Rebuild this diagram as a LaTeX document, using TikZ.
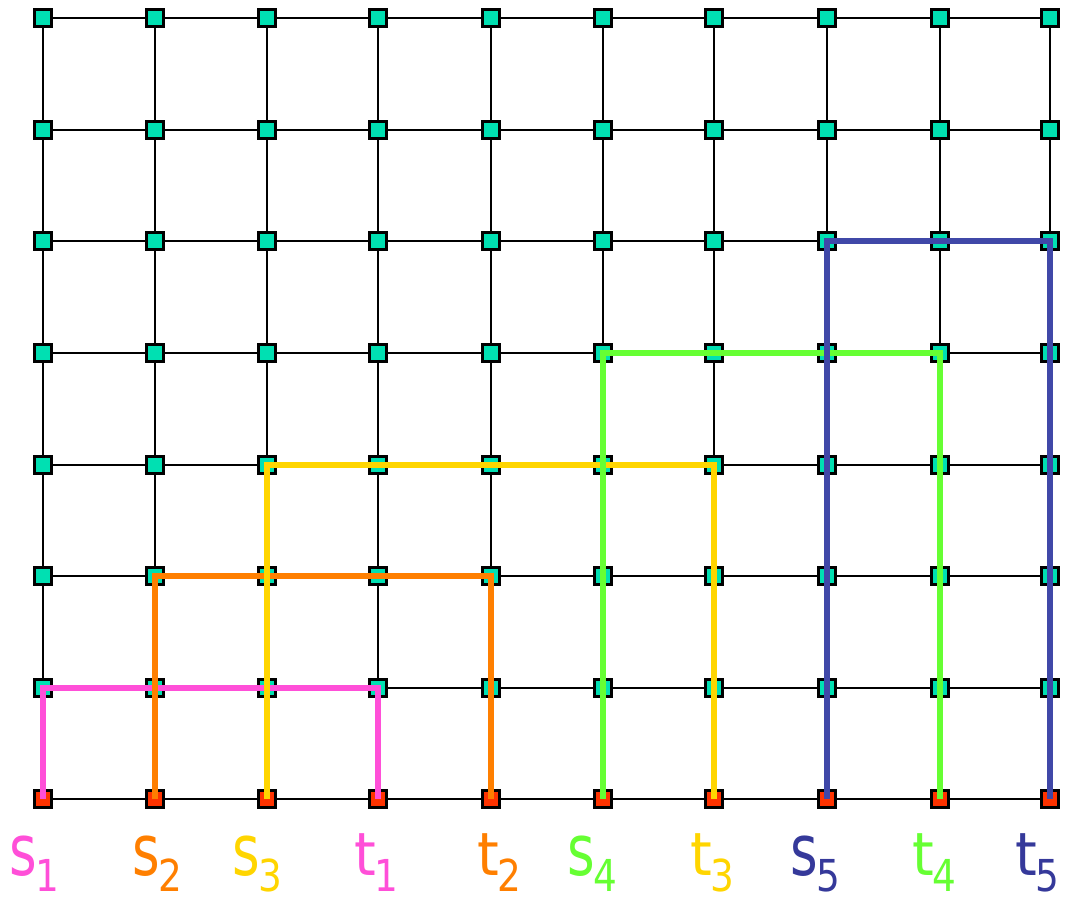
\documentclass[tikz,border=0pt]{standalone}
\usepackage{fontspec}
\newfontfamily\lblfont{DejaVu Sans}
\definecolor{teal1}{HTML}{00E0B2}
\definecolor{red1}{HTML}{FF3300}
\definecolor{pink1}{HTML}{FF4FD8}
\definecolor{orange1}{HTML}{FF7F00}
\definecolor{yellow1}{HTML}{FFD500}
\definecolor{green1}{HTML}{66FF33}
\definecolor{blue1}{HTML}{4048A8}
\definecolor{blue2}{HTML}{35399A}
\newcommand{\subpart}[1]{\hspace{-1pt}{\lblfont\fontsize{33}{33}\selectfont\raisebox{-12pt}{\scalebox{0.85}[1]{#1}}}}
\newcommand{\slbl}[1]{{\lblfont\fontsize{53}{53}\selectfont\scalebox{0.75}[1]{s}}\subpart{#1}}
\newcommand{\tlbl}[1]{{\lblfont\fontsize{52}{52}\selectfont\scalebox{0.8}[0.86]{t}}\subpart{#1}}
\begin{document}
\begin{tikzpicture}[x=0.75pt,y=-0.75pt,
  gridline/.style={line width=2.2pt,black},
  vtx/.style={draw=black,line width=2.4pt,fill=teal1,minimum size=12.2pt,inner sep=0pt,rectangle},
  term/.style={vtx,fill=red1},
  route/.style={line width=4pt,line join=miter},
  lab/.style={anchor=base west,inner sep=0pt}]
\useasboundingbox (0,0) rectangle (1066,901);
\def\xs{{43,155,267,378,491,603,714,827,940,1050}}
\def\ys{{18,130,241,353,465,576,688,799}}
% positions
\foreach \c in {0,...,9}{
  \foreach \r in {0,...,7}{
    \pgfmathsetmacro\xx{\xs[\c]}
    \pgfmathsetmacro\yy{\ys[\r]}
    \coordinate (p-\c-\r) at (\xx,\yy);
  }
}
% grid lines
\foreach \c in {0,...,9}{
  \draw[gridline] (p-\c-0) -- (p-\c-7);
}
\foreach \r in {0,...,7}{
  \draw[gridline] (p-0-\r) -- (p-9-\r);
}
% vertex squares
\foreach \c in {0,...,9}{
  \foreach \r in {0,...,6}{
    \node[vtx] (n-\c-\r) at (p-\c-\r) {};
  }
  \node[term] (n-\c-7) at (p-\c-7) {};
}
% routes
\draw[route,pink1] (n-0-7.center) -- (n-0-6.center) -- (n-3-6.center) -- (n-3-7.center);
\draw[route,orange1] (n-1-7.center) -- (n-1-5.center) -- (n-4-5.center) -- (n-4-7.center);
\draw[route,yellow1] (n-2-7.center) -- (n-2-4.center) -- (n-6-4.center) -- (n-6-7.center);
\draw[route,green1] (n-5-7.center) -- (n-5-3.center) -- (n-8-3.center) -- (n-8-7.center);
\draw[route,blue1] (n-7-7.center) -- (n-7-2.center) -- (n-9-2.center) -- (n-9-7.center);
% labels
\node[lab,text=pink1]   (l1) at (9,875)    {\slbl{1}};
\node[lab,text=orange1] (l2) at (132,875)  {\slbl{2}};
\node[lab,text=yellow1] (l3) at (232,875)  {\slbl{3}};
\node[lab,text=pink1]   (l4) at (354,875)  {\tlbl{1}};
\node[lab,text=orange1] (l5) at (477,875)  {\tlbl{2}};
\node[lab,text=green1]  (l6) at (567,875)  {\slbl{4}};
\node[lab,text=yellow1] (l7) at (690,875)  {\tlbl{3}};
\node[lab,text=blue2]   (l8) at (790,875)  {\slbl{5}};
\node[lab,text=green1]  (l9) at (912,875)  {\tlbl{4}};
\node[lab,text=blue2]   (l10) at (1015,875) {\tlbl{5}};
\end{tikzpicture}
\end{document}
